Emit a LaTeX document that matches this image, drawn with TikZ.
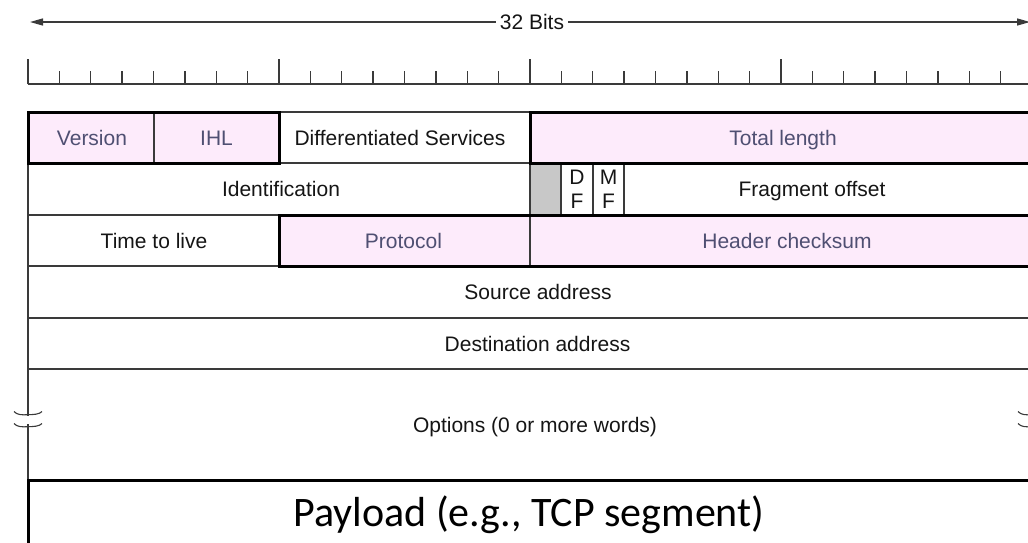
\documentclass[tikz,border=0pt]{standalone}
\usepackage{fontspec}
\setmainfont{Liberation Sans}
\newfontfamily\payfont{Carlito}
\usetikzlibrary{arrows.meta}
\definecolor{pinkfill}{HTML}{FDEBFB}
\definecolor{pinktext}{HTML}{4F4F72}
\definecolor{linegray}{HTML}{3A3A3A}
\definecolor{grayfill}{HTML}{C8C8C8}
\definecolor{txtblack}{HTML}{151515}
\begin{document}
\begin{tikzpicture}[x=1pt,y=-1pt,
  cell/.style={draw=linegray, line width=1.4pt, rectangle, inner sep=0pt, outer sep=0pt, anchor=north west},
  pinkcell/.style={cell, fill=pinkfill},
  thickbox/.style={draw=black, line width=3pt},
  lbl/.style={inner sep=0pt, font=\fontsize{21}{24}\selectfont, text height=15pt, text depth=0pt, text=txtblack},
  plbl/.style={lbl, text=pinktext},
  ruler/.style={draw=linegray, line width=1.4pt},
  breakmark/.style={draw=linegray, line width=1.1pt}
]
\useasboundingbox (0,0) rectangle (1028,542);
\clip (0,0) rectangle (1028,542);

% 32 bits arrow
\node[lbl, inner xsep=4pt] (bits) at (532,22) {32 Bits};
\coordinate (aL) at (30,22);
\coordinate (aR) at (1030,22);
\draw[ruler, -{Triangle[length=13pt,width=7pt]}] (bits.west) -- (aL);
\draw[ruler, -{Triangle[length=13pt,width=7pt]}] (bits.east) -- (aR);

% ruler
\draw[ruler] (28,84) -- (1040,84);
\foreach \i in {0,...,32} \draw[ruler] (28+\i*31.375,84) -- (28+\i*31.375,70.5);
\foreach \i in {0,8,16,24,32} \draw[ruler] (28+\i*31.375,84) -- (28+\i*31.375,58.5);

% row 1
\node[pinkcell, minimum width=126pt, minimum height=51pt] (ver) at (28,112) {};
\node[pinkcell, minimum width=125pt, minimum height=51pt] (ihl) at (154,112) {};
\node[cell, minimum width=251pt, minimum height=51pt] (ds) at (279,112) {};
\node[pinkcell, minimum width=520pt, minimum height=51pt] (tl) at (530,112) {};
% row 2
\node[cell, minimum width=502pt, minimum height=52pt] (id) at (28,163) {};
\node[cell, fill=grayfill, minimum width=31pt, minimum height=52pt] (res) at (530,163) {};
\node[cell, minimum width=32pt, minimum height=52pt, align=center, text=txtblack, font=\fontsize{21}{24}\selectfont] (df) at (561,163) {D\\F};
\node[cell, minimum width=31pt, minimum height=52pt, align=center, text=txtblack, font=\fontsize{21}{24}\selectfont] (mf) at (593,163) {M\\F};
\node[cell, minimum width=426pt, minimum height=52pt] (fo) at (624,163) {};
% row 3
\node[cell, minimum width=251pt, minimum height=51pt] (ttl) at (28,215) {};
\node[pinkcell, minimum width=251pt, minimum height=51pt] (pro) at (279,215) {};
\node[pinkcell, minimum width=520pt, minimum height=51pt] (hc) at (530,215) {};
% rows 4-6
\node[cell, minimum width=1022pt, minimum height=52pt] (src) at (28,266) {};
\node[cell, minimum width=1022pt, minimum height=51pt] (dst) at (28,318) {};
\node[cell, minimum width=1022pt, minimum height=111pt] (opt) at (28,369) {};
\node[cell, draw=black, line width=3pt, minimum width=1022pt, minimum height=100pt] (pay) at (28,480) {};

% thick outlines
\draw[thickbox] (ver.north west) rectangle (ihl.south east);
\draw[thickbox] (tl.north west) rectangle (tl.south east);
\draw[thickbox] (pro.north west) rectangle (hc.south east);

% labels
\node[plbl] (lver) at (92,137.5) {Version};
\node[plbl] (lihl) at (216.5,137.5) {IHL};
\node[lbl] (lds) at (400,137.5) {Differentiated Services};
\node[plbl] (ltl) at (783,137.5) {Total length};
\node[lbl] (lid) at (281,189) {Identification};
\node[lbl] (lfo) at (812,189) {Fragment offset};
\node[lbl] (lttl) at (154,240.5) {Time to live};
\node[plbl] (lpro) at (403.5,240.5) {Protocol};
\node[plbl] (lhc) at (787,240.5) {Header checksum};
\node[lbl] (lsrc) at (538,292) {Source address};
\node[lbl] (ldst) at (537.5,343.5) {Destination address};
\node[lbl] (lopt) at (535,424.5) {Options (0 or more words)};
\node[inner sep=0pt, anchor=base, text=black, font=\payfont\fontsize{42}{48}\selectfont] (lpay) at (529,526) {Payload (e.g., TCP segment)};

% break marks
\foreach \bx in {28,1032} {
  \fill[white] (\bx-3,415.5) rectangle (\bx+3,424);
  \foreach \by in {411.5,423.5}
    \draw[breakmark] (\bx-14,\by) .. controls (\bx-11,\by+3.5) and (\bx-6,\by+3.5) .. (\bx,\by+3.2)
      .. controls (\bx+6,\by+3) and (\bx+11,\by+3) .. (\bx+14,\by);
}
\end{tikzpicture}
\end{document}
